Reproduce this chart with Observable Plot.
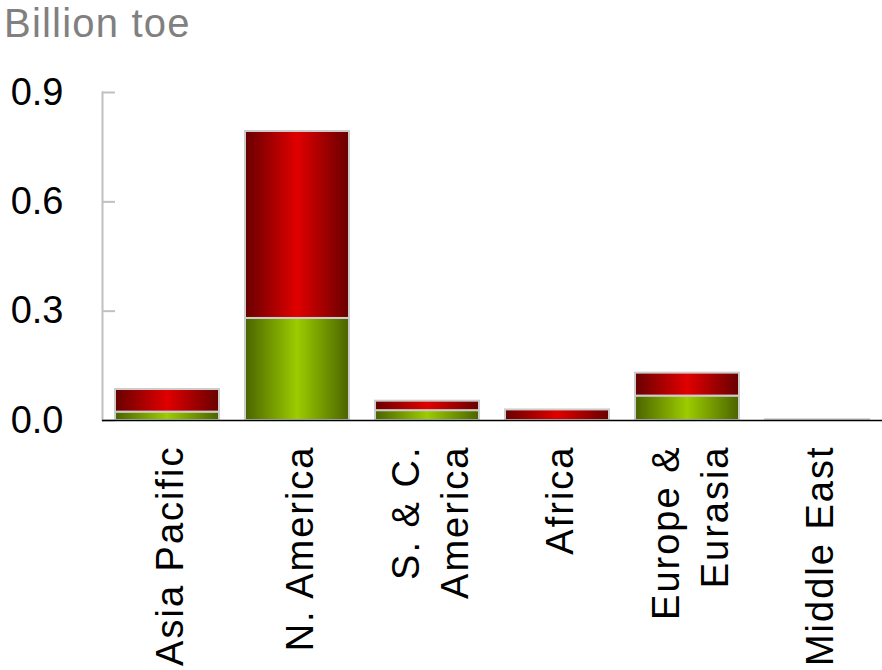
<!DOCTYPE html>
<html>
<head>
<meta charset="utf-8">
<script src="https://cdn.jsdelivr.net/npm/d3@7"></script>
<script src="https://cdn.jsdelivr.net/npm/@observablehq/plot@0.6"></script>
<style>
  html, body { margin: 0; padding: 0; background: #fff; }
  #wrap { position: relative; width: 882px; height: 670px; }
  #title { position: absolute; left: 4px; top: 3px; font-family: "Liberation Sans", Arial, sans-serif; font-size: 40px; letter-spacing: 1.2px; line-height: 40px; color: #808080; }
  g[aria-label="x-axis tick label"] text { letter-spacing: 2px; }
</style>
</head>
<body>
<div id="wrap">
  <div id="title">Billion toe</div>
  <div id="chart"></div>
</div>
<script>
const regions = ["Asia Pacific", "N. America", "S. & C.\nAmerica", "Africa", "Europe &\nEurasia", "Middle East"];
const series = ["Lower segment", "Upper segment"];
const lowerValues = [0.023, 0.280, 0.027, 0.000, 0.067, 0.000];
const upperValues = [0.062, 0.513, 0.026, 0.029, 0.063, 0.002];
const yTicks = [0, 0.3, 0.6, 0.9];

const data = [];
regions.forEach((r, i) => {
  data.push({region: r, series: series[0], value: lowerValues[i]});
  data.push({region: r, series: series[1], value: upperValues[i]});
});

const font = "Liberation Sans, Arial, sans-serif";

const chart = Plot.plot({
  width: 882,
  height: 670,
  marginLeft: 102,
  marginRight: 0,
  marginTop: 92,
  marginBottom: 250,
  style: {fontFamily: font, fontSize: "38px", color: "#000", background: "transparent"},
  x: {domain: regions, paddingInner: 0.2, paddingOuter: 0.1, label: null},
  y: {domain: [0, 0.9], label: null},
  color: {domain: series, range: ["url(#gradGreen)", "url(#gradRed)"]},
  marks: [
    Plot.barY(data, {x: "region", y: "value", fill: "series", stroke: "#cccccc", strokeWidth: 2, inset: 0}),
    Plot.frame({anchor: "left", stroke: "#c0c0c0", strokeWidth: 2}),
    Plot.axisY(yTicks, {tickSize: 0, tickPadding: 39, tickFormat: d => d.toFixed(1), fontSize: 38, fill: "#000", label: null}),
    Plot.axisY(yTicks, {tickSize: -13, text: null, stroke: "#c0c0c0", strokeWidth: 2, label: null}),
    Plot.ruleY([0], {stroke: "#000", strokeWidth: 1.5}),
    Plot.axisX({tickSize: 0, tickPadding: 25, tickRotate: -90, fontSize: 38, lineHeight: 1.29, fill: "#000", label: null})
  ]
});

const svg = d3.select(chart);
svg.selectAll("text").filter(function() {
  const t = this.getAttribute("transform") || "";
  return t.includes("rotate");
}).style("letter-spacing", "2px");
const defs = svg.insert("defs", ":first-child");
function grad(id, edge, mid) {
  const g = defs.append("linearGradient").attr("id", id).attr("x1", "0").attr("x2", "1").attr("y1", "0").attr("y2", "0");
  g.append("stop").attr("offset", "0%").attr("stop-color", edge);
  g.append("stop").attr("offset", "50%").attr("stop-color", mid);
  g.append("stop").attr("offset", "100%").attr("stop-color", edge);
}
grad("gradRed", "#680000", "#e00000");
grad("gradGreen", "#4a6400", "#9ccc00");

document.getElementById("chart").appendChild(chart);
</script>
</body>
</html>
